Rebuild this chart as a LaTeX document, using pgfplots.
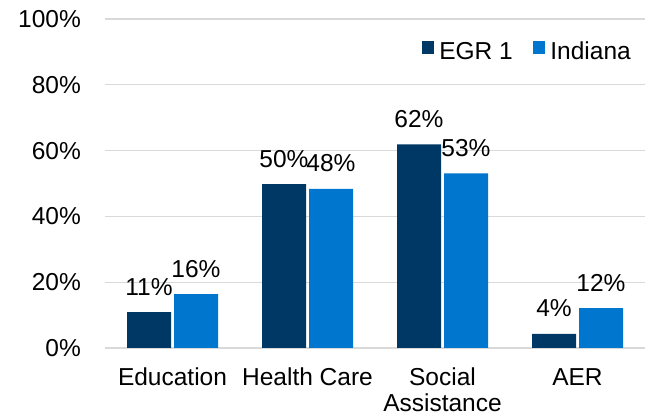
\documentclass[border=0pt]{standalone}
\usepackage{fontspec}
\setmainfont{Liberation Sans}
\usepackage{pgfplots}
\pgfplotsset{compat=1.18}
\definecolor{egr}{RGB}{0,56,101}
\definecolor{ind}{RGB}{0,118,206}
\definecolor{gridc}{RGB}{217,217,217}
\newcommand{\cf}{\fontsize{24.5bp}{26bp}\selectfont}
\begin{document}
\begin{tikzpicture}
\useasboundingbox (0,0) rectangle (651bp,417bp);
\begin{axis}[
  at={(105bp,69bp)}, anchor=south west,
  scale only axis, width=540bp, height=329bp,
  xmin=-0.5, xmax=3.5, ymin=0, ymax=100,
  ybar=3bp, bar width=44bp,
  axis line style={draw=none},
  major tick length=0pt,
  ytick={0,20,40,60,80,100},
  yticklabel={\pgfmathprintnumber[assume math mode=true]{\tick}\%},
  yticklabel style={font=\cf, anchor=east, inner sep=0pt, xshift=-24bp},
  xtick={0,1,2,3},
  xticklabels={Education,Health Care,Social\\Assistance,AER},
  xticklabel style={font=\cf, align=center, anchor=north, inner sep=0pt, yshift=-20bp},
  ymajorgrids, grid style={draw=gridc, line width=1.3bp},
  nodes near coords={\pgfmathprintnumber[fixed,precision=0,assume math mode=true]{\pgfplotspointmeta}\%},
  every node near coord/.append style={font=\cf, black, anchor=base, inner sep=0pt, yshift=17bp},
  legend columns=2,
  legend style={draw=none, fill=none, inner sep=0pt, at={(1,1)}, anchor=north east, xshift=-14bp, yshift=-22bp, font=\cf,
    nodes={inner sep=0pt},
    /tikz/every odd column/.append style={column sep=5bp},
    /tikz/every even column/.append style={column sep=20bp}},
  legend image code/.code={\fill[#1] (0bp,-2.5bp) rectangle (12.6bp,10.1bp);},
]
\addplot[fill=egr, draw=none] coordinates {(0,10.9) (1,49.8) (2,61.9) (3,4.3)};
\addplot[fill=ind, draw=none] coordinates {(0,16.4) (1,48.4) (2,53.1) (3,12.1)};
\legend{EGR 1,Indiana}
\end{axis}
\end{tikzpicture}
\end{document}
